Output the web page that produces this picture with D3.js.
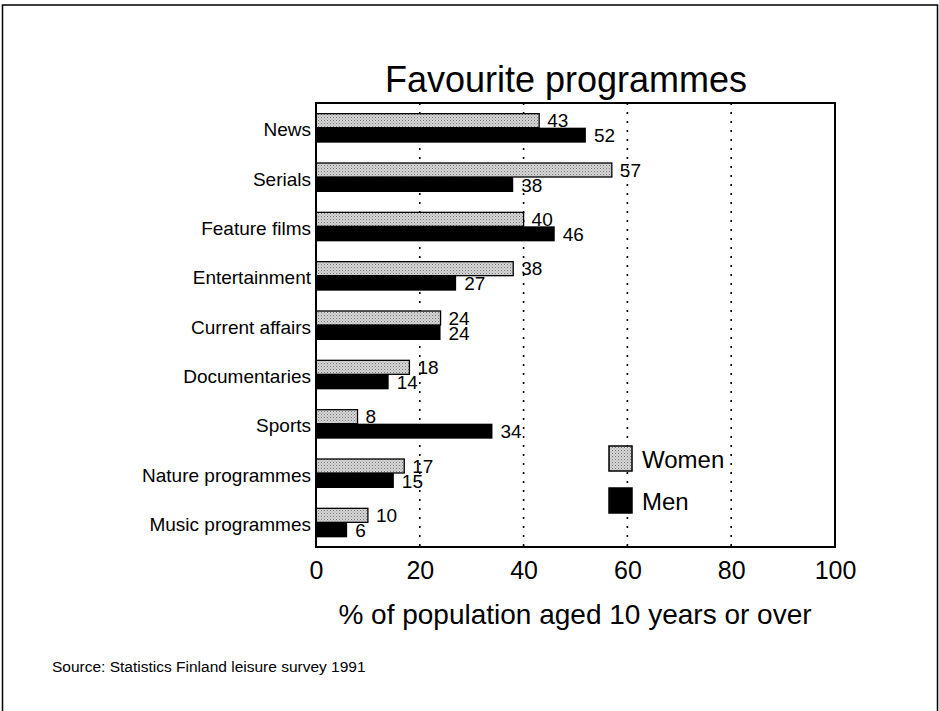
<!DOCTYPE html>
<html>
<head>
<meta charset="utf-8">
<script src="https://cdn.jsdelivr.net/npm/d3@7"></script>
<style>
  html, body { margin: 0; padding: 0; background: #fff; }
  svg { display: block; font-family: "Liberation Sans", Arial, Helvetica, sans-serif; }
</style>
</head>
<body>
<svg id="chart" width="939" height="711"></svg>
<script>
// ---- data ----
const categories = ["News", "Serials", "Feature films", "Entertainment", "Current affairs",
                    "Documentaries", "Sports", "Nature programmes", "Music programmes"];
const women = [43, 57, 40, 38, 24, 18, 8, 17, 10];
const men   = [52, 38, 46, 27, 24, 14, 34, 15, 6];
const xTicks = [0, 20, 40, 60, 80, 100];
const gridValues = [20, 40, 60, 80];
const seriesNames = ["Women", "Men"];
const titleText = "Favourite programmes";
const xAxisTitle = "% of population aged 10 years or over";
const sourceText = "Source: Statistics Finland leisure survey 1991";

(function () {
// ---- layout ----
const svg = d3.select("#chart");
const pLeft = 316, pRight = 835, pTop = 103, pBottom = 547;

const x = d3.scaleLinear().domain([0, 100]).range([pLeft, pRight]);
const y = d3.scaleBand().domain(categories).range([pTop, pBottom]);

// outer frame
svg.append("rect")
  .attr("x", 2.5).attr("y", 5).attr("width", 935).attr("height", 720)
  .attr("fill", "none").attr("stroke", "#000").attr("stroke-width", 1.5);

// pattern for women bars
const defs = svg.append("defs");
const pat = defs.append("pattern")
  .attr("id", "stipple").attr("patternUnits", "userSpaceOnUse")
  .attr("width", 3).attr("height", 3);
pat.append("rect").attr("width", 3).attr("height", 3).attr("fill", "#d6d6d6");
pat.append("rect").attr("x", 0).attr("y", 0).attr("width", 1).attr("height", 1).attr("fill", "#777");
pat.append("rect").attr("x", 1.5).attr("y", 1.5).attr("width", 1).attr("height", 1).attr("fill", "#999");

// title
svg.append("text")
  .attr("x", 566).attr("y", 92)
  .attr("text-anchor", "middle")
  .attr("font-size", 36)
  .attr("fill", "#000")
  .text(titleText);

// gridlines
svg.append("g").selectAll("line")
  .data(gridValues).join("line")
  .attr("x1", d => x(d)).attr("x2", d => x(d))
  .attr("y1", pTop).attr("y2", pBottom)
  .attr("stroke", "#000").attr("stroke-width", 1.6)
  .attr("stroke-dasharray", "2,7");

// bars
svg.append("g").selectAll("rect")
  .data(categories).join("rect")
  .attr("x", x(0))
  .attr("y", d => y(d) + y.bandwidth() / 2 - 14)
  .attr("width", (d, i) => x(women[i]) - x(0))
  .attr("height", 14)
  .attr("fill", "url(#stipple)")
  .attr("stroke", "#000").attr("stroke-width", 1.3);

svg.append("g").selectAll("rect")
  .data(categories).join("rect")
  .attr("x", x(0))
  .attr("y", d => y(d) + y.bandwidth() / 2)
  .attr("width", (d, i) => x(men[i]) - x(0))
  .attr("height", 15)
  .attr("fill", "#000");

// value labels
svg.append("g").selectAll("text")
  .data(categories).join("text")
  .attr("x", (d, i) => x(women[i]) + 8)
  .attr("y", d => y(d) + y.bandwidth() / 2 - 0.5)
  .attr("font-size", 19).attr("fill", "#000")
  .text((d, i) => women[i]);

svg.append("g").selectAll("text")
  .data(categories).join("text")
  .attr("x", (d, i) => x(men[i]) + 8)
  .attr("y", d => y(d) + y.bandwidth() / 2 + 14.5)
  .attr("font-size", 19).attr("fill", "#000")
  .text((d, i) => men[i]);

// plot box
svg.append("rect")
  .attr("x", pLeft).attr("y", pTop)
  .attr("width", pRight - pLeft).attr("height", pBottom - pTop)
  .attr("fill", "none").attr("stroke", "#000").attr("stroke-width", 2);

// y axis (category labels)
const yAxis = svg.append("g")
  .attr("transform", `translate(${pLeft},0)`)
  .call(d3.axisLeft(y).tickSize(0).tickPadding(5));
yAxis.select(".domain").remove();
yAxis.selectAll("text")
  .attr("font-size", 19).attr("fill", "#000")
  .attr("font-family", "'Liberation Sans', Arial, sans-serif")
  .attr("dy", "0.45em");

// x axis
const xAxis = svg.append("g")
  .attr("transform", `translate(0,${pBottom})`)
  .call(d3.axisBottom(x).tickValues(xTicks).tickSize(0).tickPadding(14).tickFormat(d3.format("d")));
xAxis.select(".domain").remove();
xAxis.selectAll("text")
  .attr("font-size", 25).attr("fill", "#000")
  .attr("font-family", "'Liberation Sans', Arial, sans-serif");

// x axis title
svg.append("text")
  .attr("x", 575).attr("y", 624)
  .attr("text-anchor", "middle")
  .attr("font-size", 28).attr("fill", "#000")
  .text(xAxisTitle);

// legend
const legend = svg.append("g");
const legendY = [458, 500];
legend.selectAll("rect")
  .data(seriesNames).join("rect")
  .attr("x", 609).attr("y", (d, i) => legendY[i] - 12)
  .attr("width", 23).attr("height", 25)
  .attr("fill", (d, i) => i === 0 ? "url(#stipple)" : "#000")
  .attr("stroke", "#000").attr("stroke-width", 1.5);
legend.selectAll("text")
  .data(seriesNames).join("text")
  .attr("x", 642).attr("y", (d, i) => legendY[i] + 10)
  .attr("font-size", 24).attr("fill", "#000")
  .text(d => d);

// source
svg.append("text")
  .attr("x", 52).attr("y", 672)
  .attr("font-size", 15.5).attr("fill", "#000")
  .text(sourceText);
})();
</script>
</body>
</html>
